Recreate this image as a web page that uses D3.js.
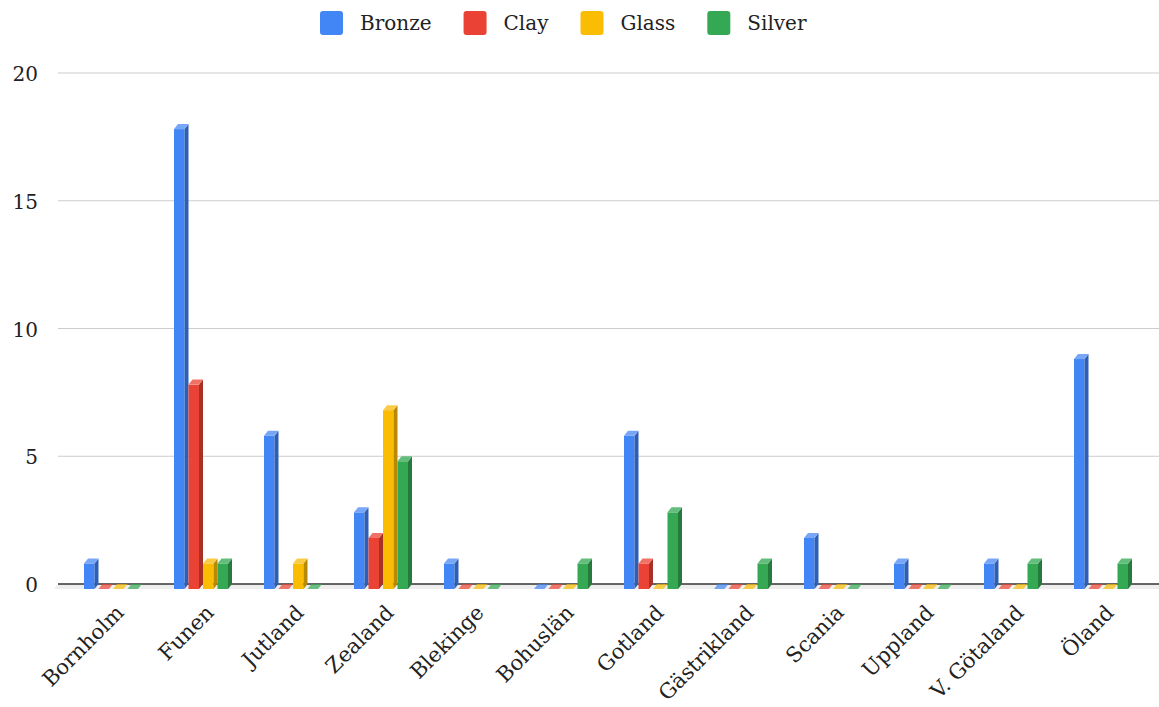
<!DOCTYPE html>
<html><head><meta charset="utf-8">
<script src="https://cdn.jsdelivr.net/npm/d3@7"></script>
<style>body{margin:0;background:#fff}svg{display:block}text{font-family:"DejaVu Serif",serif;fill:#222}</style>
</head><body><svg id="c" width="1159" height="707"></svg>
<script>
const categories = ["Bornholm","Funen","Jutland","Zealand","Blekinge","Bohuslän","Gotland","Gästrikland","Scania","Uppland","V. Götaland","Öland"];
const seriesNames = ["Bronze","Clay","Glass","Silver"];
const bronze = [1,18,6,3,1,0,6,0,2,1,1,9];
const clay   = [0,8,0,2,0,0,1,0,0,0,0,0];
const glass  = [0,1,1,7,0,0,0,0,0,0,0,0];
const silver = [0,1,0,5,0,1,3,1,0,0,1,1];
const yTicks = [0,5,10,15,20];
const colors = {
  Bronze:{front:"#4285f4",side:"#2f5fb3",top:"#78a7f7"},
  Clay:{front:"#ea4335",side:"#a83025",top:"#f07266"},
  Glass:{front:"#fbbc04",side:"#b88a03",top:"#fccb45"},
  Silver:{front:"#34a853",side:"#257a3c",top:"#63bd7b"}
};
const values = {Bronze:bronze,Clay:clay,Glass:glass,Silver:silver};

const svg = d3.select("#c");
const DX = 4, DY = 5;
const y = d3.scaleLinear().domain([0,20]).range([584,73]);
const x0 = d3.scaleBand().domain(categories).range([68,1148]).padding(0);
const x1 = d3.scaleBand().domain(seriesNames).range([16,74]).padding(0);

// gridlines
svg.append("g").selectAll("line").data(yTicks.filter(d=>d>0)).join("line")
  .attr("x1",58).attr("x2",1159).attr("y1",d=>y(d)).attr("y2",d=>y(d))
  .attr("stroke","#cccccc").attr("stroke-width",1);
// floor
svg.append("path").attr("d",`M58,${y(0)}L1159,${y(0)}L1159,${y(0)+DY}L54,${y(0)+DY}Z`).attr("fill","#eeeeee");
svg.append("line").attr("x1",58).attr("x2",1159).attr("y1",y(0)).attr("y2",y(0)).attr("stroke","#333").attr("stroke-width",1.5);

// y tick labels
svg.append("g").selectAll("text").data(yTicks).join("text")
  .attr("x",38).attr("y",d=>y(d)+8).attr("text-anchor","end").attr("font-size",20).text(d=>d);

// bars
const bars = [];
categories.forEach((c,i)=>seriesNames.forEach(s=>bars.push({c,s,v:values[s][i]})));
const g = svg.append("g");
const fw = x1.bandwidth()-DX;
bars.forEach(b=>{
  const fx = x0(b.c)+x1(b.s);
  const base = y(0)+DY;
  const col = colors[b.s];
  if(b.v===0){
    g.append("path").attr("d",`M${fx},${base}L${fx+fw},${base}L${fx+fw+DX},${y(0)}L${fx+DX},${y(0)}Z`)
      .attr("fill",col.front).attr("opacity",0.7);
    return;
  }
  const ft = y(b.v)+DY;
  g.append("rect").attr("x",fx).attr("y",ft).attr("width",fw).attr("height",base-ft).attr("fill",col.front);
  g.append("path").attr("d",`M${fx+fw},${ft}L${fx+fw+DX},${ft-DY}L${fx+fw+DX},${y(0)}L${fx+fw},${base}Z`).attr("fill",col.side);
  g.append("path").attr("d",`M${fx},${ft}L${fx+DX},${ft-DY}L${fx+fw+DX},${ft-DY}L${fx+fw},${ft}Z`).attr("fill",col.top);
});

// x labels
svg.append("g").selectAll("text").data(categories).join("text")
  .attr("text-anchor","end").attr("font-size",21)
  .attr("transform",d=>`translate(${x0(d)+x0.bandwidth()/2+12},614) rotate(-45)`)
  .text(d=>d);

// legend
const lg = svg.append("g");
let lx = 320;
seriesNames.forEach(s=>{
  lg.append("rect").attr("x",lx).attr("y",11).attr("width",23).attr("height",24).attr("rx",3).attr("fill",colors[s].front);
  const t = lg.append("text").attr("x",lx+40).attr("y",30).attr("font-size",20).text(s);
  lx = lx+40+t.node().getComputedTextLength()+32;
});
</script></body></html>
